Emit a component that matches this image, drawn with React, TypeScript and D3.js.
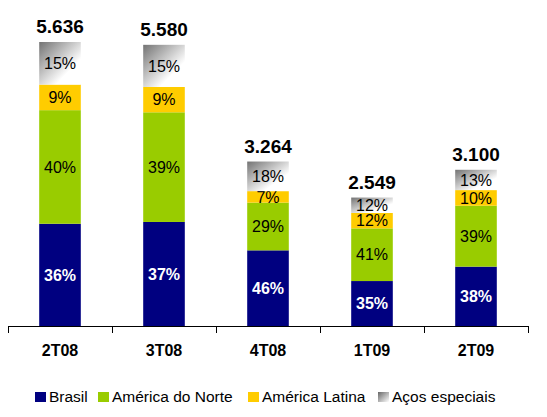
import React from "react";
import * as d3 from "d3";

const categories = ["2T08", "3T08", "4T08", "1T09", "2T09"];
const totals = [5636, 5580, 3264, 2549, 3100];
const totalLabels = ["5.636", "5.580", "3.264", "2.549", "3.100"];
const seriesNames = ["Brasil", "América do Norte", "América Latina", "Aços especiais"];
const brasil = [36, 37, 46, 35, 38];
const americaNorte = [40, 39, 29, 41, 39];
const americaLatina = [9, 9, 7, 12, 10];
const acosEspeciais = [15, 15, 18, 12, 13];
const seriesPct = [brasil, americaNorte, americaLatina, acosEspeciais];

const W = 547;
const H = 417;
const colors = ["#000080", "#99CC00", "#FFCC00", "url(#grayGrad)"];
const legendColors = ["#000080", "#99CC00", "#FFCC00", "url(#grayGradL)"];
const labelColors = ["#ffffff", "#000000", "#000000", "#000000"];
const legendX = [35, 98, 248, 378];

export default function App() {
  const x = d3.scaleBand<string>().domain(categories).range([8, 528]).paddingInner(0.6).paddingOuter(0.3);
  const xb = d3.scaleBand<string>().domain(categories).range([8, 528]);
  const y = d3.scaleLinear().domain([0, 5636]).range([326, 42]);

  const stacked = categories.map((c, i) => {
    let acc = 0;
    return seriesPct.map((s, k) => {
      const v = (totals[i] * s[i]) / 100;
      const seg = { k, y0: acc, y1: acc + v, pct: s[i] };
      acc += v;
      return seg;
    });
  });

  const font = "'Liberation Sans', Arial, Helvetica, sans-serif";

  return (
    <svg width={W} height={H} style={{ position: "absolute", left: 0, top: 0, background: "#fff" }} fontFamily={font}>
      <defs>
        <linearGradient id="grayGrad" x1="0" y1="0" x2="1" y2="1">
          <stop offset="0" stopColor="#737373" />
          <stop offset="0.7" stopColor="#ffffff" />
          <stop offset="1" stopColor="#ffffff" />
        </linearGradient>
        <linearGradient id="grayGradL" x1="0" y1="0" x2="1" y2="1">
          <stop offset="0" stopColor="#666666" />
          <stop offset="1" stopColor="#ffffff" />
        </linearGradient>
      </defs>
      {categories.map((c, i) => (
        <g key={c}>
          {stacked[i].map((seg) => {
            const top = y(seg.y1);
            const bot = y(seg.y0);
            return (
              <g key={seg.k}>
                <rect x={x(c)} y={top} width={x.bandwidth()} height={bot - top} fill={colors[seg.k]} />
                <text
                  x={(x(c) as number) + x.bandwidth() / 2}
                  y={(top + bot) / 2}
                  dy="0.36em"
                  textAnchor="middle"
                  fontSize={16}
                  fontWeight={seg.k === 0 ? "bold" : "normal"}
                  fill={labelColors[seg.k]}
                >
                  {seg.pct}%
                </text>
              </g>
            );
          })}
          <text
            x={(x(c) as number) + x.bandwidth() / 2}
            y={y(totals[i]) - 9}
            textAnchor="middle"
            fontSize={19}
            fontWeight="bold"
            fill="#000"
          >
            {totalLabels[i]}
          </text>
          <text
            x={(xb(c) as number) + xb.bandwidth() / 2}
            y={356}
            textAnchor="middle"
            fontSize={16}
            fontWeight="bold"
            fill="#000"
          >
            {c}
          </text>
        </g>
      ))}
      <line x1={8} x2={528} y1={326.5} y2={326.5} stroke="#000" strokeWidth={1} />
      {[...categories.map((c) => xb(c) as number), 528].map((t, i) => (
        <line key={i} x1={t + 0.5} x2={t + 0.5} y1={326} y2={333} stroke="#000" strokeWidth={1} />
      ))}
      {seriesNames.map((n, k) => (
        <g key={n}>
          <rect x={legendX[k]} y={392} width={11} height={10} fill={legendColors[k]} />
          <text x={legendX[k] + 14} y={402} fontSize={15.5} fill="#000">
            {n}
          </text>
        </g>
      ))}
    </svg>
  );
}
